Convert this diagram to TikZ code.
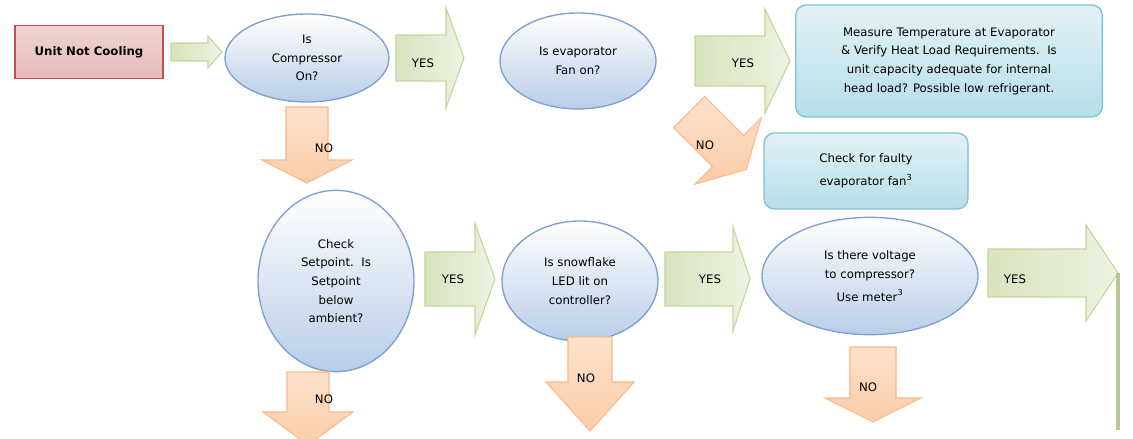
\documentclass[tikz,border=0pt]{standalone}
\usepackage{fontspec}
\setmainfont{DejaVu Sans}
\usetikzlibrary{shapes.geometric}
\begin{document}
\definecolor{elb}{HTML}{7F9FCF}\definecolor{elf}{HTML}{B9CDE8}
\definecolor{grb}{HTML}{C3D69B}\definecolor{grf}{HTML}{D7E4BD}
\definecolor{orb}{HTML}{F9B98A}\definecolor{orf}{HTML}{FBCDA8}
\definecolor{cyb}{HTML}{7FC3D6}\definecolor{cyf}{HTML}{B7DEE8}
\definecolor{pkb}{HTML}{C0504D}\definecolor{pkf}{HTML}{E6B9B8}
\newcommand\rarr[6]{\path[garr] (#1,#4-#5)--(#2,#4-#5)--(#2,#4-#6)--(#3,#4)--(#2,#4+#6)--(#2,#4+#5)--(#1,#4+#5)--cycle;}
\newcommand\darr[6]{\path[oarr] (#4-#5,#1)--(#4-#5,#2)--(#4-#6,#2)--(#4,#3)--(#4+#6,#2)--(#4+#5,#2)--(#4+#5,#1)--cycle;}
\begin{tikzpicture}[x=0.75pt,y=-0.75pt,font=\fontsize{8.8}{14}\selectfont,
 garr/.style={draw=grb,line width=0.8pt,left color=grf,right color=grf!45},
 oarr/.style={draw=orb,line width=0.8pt,top color=orf!60,bottom color=orf},
 box/.style={draw=cyb,line width=1pt,rounded corners=8pt,top color=cyf!40,bottom color=cyf,align=center},
 lab/.style={inner sep=0pt}]
\useasboundingbox (0,0) rectangle (1133,439);
\node[draw=pkb,line width=1pt,top color=pkf!60,bottom color=pkf,minimum width=111pt,minimum height=39.75pt,font=\fontsize{8.8}{11}\selectfont\bfseries] (start) at (89,52) {Unit Not Cooling};
\rarr{171}{208}{222}{52}{9}{16}
\node[ellipse,draw=elb,line width=1pt,top color=white,bottom color=elf,minimum width=123pt,minimum height=66pt,inner sep=0pt,align=center] (e1) at (307,58) {Is\\Compressor\\On?};
\rarr{396}{446}{464}{58}{23}{50}
\node[lab] (y1) at (423,63) {YES};
\node[ellipse,draw=elb,line width=1pt,top color=white,bottom color=elf,minimum width=117pt,minimum height=72pt,inner sep=0pt,align=center] (e2) at (578,61) {Is evaporator\\Fan on?};
\rarr{695}{765}{790}{61}{25}{52}
\node[lab] (y2) at (743,63) {YES};
\node[box,minimum width=230pt,minimum height=84pt] (b1) at (949,61) {Measure Temperature at Evaporator\\\& Verify Heat Load Requirements.\ \ Is\\unit capacity adequate for internal\\head load? Possible low refrigerant.};
\begin{scope}[shift={(728,151)},rotate=-45]
\path[oarr] (-55,-22)--(0,-22)--(0,-47)--(26,0)--(0,47)--(0,22)--(-55,22)--cycle;
\end{scope}
\node[lab] (n0) at (705,145) {NO};
\node[box,minimum width=153pt,minimum height=57pt] (b2) at (866,171) {Check for faulty\\[3pt]evaporator fan\textsuperscript{3}};
\darr{107}{160}{183}{307}{21}{45}
\node[lab] (n1) at (324,148) {NO};
\node[ellipse,draw=elb,line width=1pt,top color=white,bottom color=elf,minimum width=117pt,minimum height=136pt,inner sep=0pt,align=center] (e3) at (336,281) {Check\\Setpoint.\ \ Is\\Setpoint\\below\\ambient?};
\rarr{425}{475}{495}{279}{27}{56}
\node[lab] (y3) at (453,279) {YES};
\node[ellipse,draw=elb,line width=1pt,top color=white,bottom color=elf,minimum width=117pt,minimum height=90pt,inner sep=0pt,align=center] (e4) at (580,281) {Is snowflake\\LED lit on\\controller?};
\rarr{665}{733}{750}{279}{27}{52}
\node[lab] (y4) at (710,279) {YES};
\node[ellipse,draw=elb,line width=1pt,top color=white,bottom color=elf,minimum width=162pt,minimum height=88pt,inner sep=0pt,align=center] (e5) at (870,276) {Is there voltage\\to compressor?\\[3pt]Use meter\textsuperscript{3}};
\rarr{988}{1086}{1118}{273}{24}{48}
\node[lab] (y5) at (1015,279) {YES};
\coordinate (g1) at (1118,273);\coordinate (g2) at (1118,430);
\draw[grb!90!black!90,line width=3pt] (g1)--(g2);
\darr{372}{412}{445}{308}{21}{45}
\node[lab] (n2) at (324,399) {NO};
\darr{337}{382}{431}{590}{22}{44}
\node[lab] (n3) at (586,378) {NO};
\darr{347}{398}{422}{873}{23}{48}
\node[lab] (n4) at (868,387) {NO};
\end{tikzpicture}
\end{document}
